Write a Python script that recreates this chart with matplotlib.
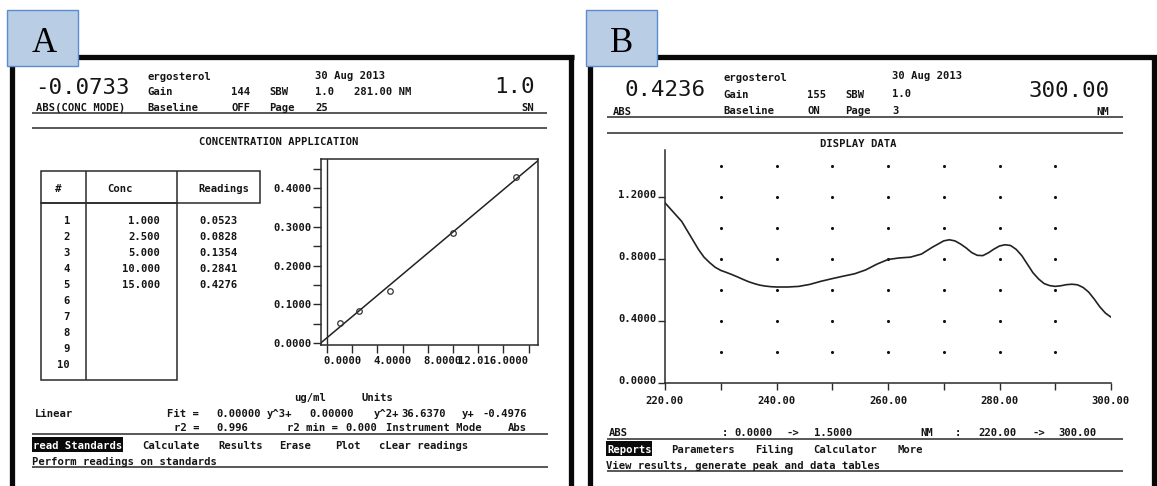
import numpy as np
import matplotlib
matplotlib.use('Agg')
import matplotlib.pyplot as plt
from matplotlib.patches import Rectangle
from matplotlib.ticker import MultipleLocator
from matplotlib.transforms import ScaledTranslation

W, H = 1157, 486

# ---------------- data ----------------
# Panel A : concentration application (standards)
std_index = list(range(1, 11))
std_conc = [1.000, 2.500, 5.000, 10.000, 15.000]
std_reading = [0.0523, 0.0828, 0.1354, 0.2841, 0.4276]
fit_coef = [0.00000, 0.00000, 36.6370, -0.4976]   # y^3, y^2, y, constant
fit_r2 = 0.996
fit_r2_min = 0.000
a_yticks = [0.0, 0.1, 0.2, 0.3, 0.4]
a_yticklabels = ['0.0000', '0.1000', '0.2000', '0.3000', '0.4000']
a_xticks = [0, 4, 8, 12]
a_xticklabels = ['0.0000', '4.0000', '8.0000', '12.016.0000']

# Panel B : display data (spectrum)
spec_nm = [220, 221, 222, 223, 224, 225, 226, 227, 228, 229, 230, 231, 232, 233,
           234, 235, 236, 237, 238, 239, 240, 242, 244, 246, 248, 250, 252, 254,
           256, 258, 260, 262, 264, 266, 268, 270, 271, 272, 273, 274, 275, 276,
           277, 278, 279, 280, 281, 282, 283, 284, 285, 286, 287, 288, 289, 290,
           291, 292, 293, 294, 295, 296, 297, 298, 299, 300]
spec_abs = [1.160, 1.120, 1.080, 1.040, 0.980, 0.920, 0.860, 0.810, 0.775, 0.745,
            0.725, 0.712, 0.698, 0.683, 0.667, 0.652, 0.640, 0.630, 0.624, 0.620,
            0.618, 0.618, 0.622, 0.635, 0.655, 0.672, 0.688, 0.703, 0.728, 0.765,
            0.795, 0.805, 0.810, 0.830, 0.875, 0.915, 0.922, 0.915, 0.895, 0.870,
            0.840, 0.822, 0.820, 0.838, 0.862, 0.882, 0.890, 0.885, 0.860, 0.820,
            0.765, 0.710, 0.670, 0.640, 0.627, 0.622, 0.626, 0.633, 0.636, 0.632,
            0.615, 0.585, 0.540, 0.490, 0.450, 0.424]
b_yticks = [0.0, 0.4, 0.8, 1.2]
b_yticklabels = ['0.0000', '0.4000', '0.8000', '1.2000']
b_xticks = [220, 240, 260, 280, 300]
b_xticklabels = ['220.00', '240.00', '260.00', '280.00', '300.00']

# ---------------- style ----------------
MONO = 'DejaVu Sans Mono'
SERIF = ['Liberation Serif', 'DejaVu Serif']
FS = 7.6
FSB = 16.2
WT = 'bold'
INK = '#151515'
LINE = '#2a2a2a'

fig = plt.figure(figsize=(W / 100, H / 100), dpi=100)
fig.patch.set_facecolor('white')
bg = fig.add_axes([0, 0, 1, 1])
bg.set_xlim(0, W)
bg.set_ylim(H, 0)
bg.axis('off')


def T(x, y, s, ha='left', size=FS, color=INK, weight=WT, **kw):
    bg.text(x, y, s, ha=ha, va='baseline', fontsize=size, family=MONO,
            color=color, fontweight=weight, **kw)


def HL(x0, x1, y, lw=1.1, color=LINE):
    bg.plot([x0, x1], [y, y], color=color, lw=lw, solid_capstyle='butt')


def VL(x, y0, y1, lw=1.1, color=LINE):
    bg.plot([x, x], [y0, y1], color=color, lw=lw, solid_capstyle='butt')


def frac(x0, y0, x1, y1):
    return [x0 / W, 1 - y1 / H, (x1 - x0) / W, (y1 - y0) / H]


# ---------------- frames ----------------
FR = 3.8
HL(9, 574, 57.5, lw=FR, color='#080808')
VL(12, 55.5, H, lw=FR, color='#080808')
VL(570.5, 55.5, H, lw=FR, color='#080808')
HL(587, W, 57, lw=FR, color='#080808')
VL(590, 55, H, lw=FR, color='#080808')
VL(1153.5, 55, H, lw=FR, color='#080808')

for (bx, lab, lx) in [(7, 'A', 44), (586, 'B', 622)]:
    bg.add_patch(Rectangle((bx, 10), 71, 56, facecolor='#b9cde5',
                           edgecolor='#5b8bd0', lw=1.0, zorder=5))
    bg.text(lx, 52, lab, ha='center', va='baseline', fontsize=25,
            family=SERIF, color='black', zorder=6)

# ---------------- Panel A header ----------------
T(35, 94, '-0.0733', size=FSB, weight='normal')
T(36, 111, 'ABS(CONC MODE)')
T(147, 80, 'ergosterol')
T(147, 95, 'Gain')
T(147, 111, 'Baseline')
T(231, 95, '144')
T(231, 111, 'OFF')
T(269, 95, 'SBW')
T(269, 111, 'Page')
T(315, 79, '30 Aug 2013')
T(315, 95, '1.0')
T(315, 111, '25')
T(354, 95, '281.00 NM')
T(535, 93, '1.0', ha='right', size=FSB, weight='normal')
T(534, 111, 'SN', ha='right')
HL(32, 547, 113.5)
HL(32, 547, 128.5)
T(279, 145, 'CONCENTRATION APPLICATION', ha='center')

# table
tl, tm, tr, th = 41, 86, 177, 260
ty0, ty1, ty2 = 171, 203, 380
bg.add_patch(Rectangle((tl, ty0), th - tl, ty1 - ty0, fill=False,
                       edgecolor=LINE, lw=1.1))
bg.add_patch(Rectangle((tl, ty1), tr - tl, ty2 - ty1, fill=False,
                       edgecolor=LINE, lw=1.1))
VL(tm, ty0, ty2)
VL(tr, ty0, ty1)
T(58, 192, '#', ha='center')
T(120, 192, 'Conc', ha='center')
T(224, 192, 'Readings', ha='center')
for k, idx in enumerate(std_index):
    yb = 224 + 16 * k
    T(70, yb, str(idx), ha='right')
    if k < len(std_conc):
        T(160, yb, f'{std_conc[k]:.3f}', ha='right')
        T(199, yb, f'{std_reading[k]:.4f}')

# bottom of panel A
T(294, 401, 'ug/ml')
T(361, 401, 'Units')
T(35, 417, 'Linear')
T(199, 417, 'Fit =', ha='right')
T(216, 417, f'{fit_coef[0]:.5f}')
T(267, 417, 'y^3+')
T(309, 417, f'{fit_coef[1]:.5f}')
T(374, 417, 'y^2+')
T(401, 417, f'{fit_coef[2]:.4f}')
T(462, 417, 'y+')
T(527, 417, f'{fit_coef[3]:.4f}', ha='right')
T(199, 431, 'r2 =', ha='right')
T(216, 431, f'{fit_r2:.3f}')
T(287, 431, 'r2 min =')
T(345, 431, f'{fit_r2_min:.3f}')
T(386, 431, 'Instrument Mode')
T(527, 431, 'Abs', ha='right')
HL(32, 548, 433.5)
bg.add_patch(Rectangle((32, 437), 91, 15, facecolor='#0a0a0a', edgecolor='none'))
T(33, 449, 'read Standards', color='white')
T(142, 449, 'Calculate')
T(218, 449, 'Results')
T(279, 449, 'Erase')
T(335, 449, 'Plot')
T(379, 449, 'cLear readings')
T(32, 465, 'Perform readings on standards')
HL(32, 548, 466.5)

# ---------------- Panel A plot ----------------
ax0, ay0, ax1, ay1 = 321, 159, 538, 345
axA = fig.add_axes(frac(ax0, ay0, ax1, ay1))
x_org, x_ppu = 327, 12.6
y_org, y_ppu = 343, 387.5
axA.set_xlim((ax0 - x_org) / x_ppu, (ax1 - x_org) / x_ppu)
axA.set_ylim((y_org - ay1) / y_ppu, (y_org - ay0) / y_ppu)
xs = np.array(axA.get_xlim())
axA.plot(xs, (xs - fit_coef[3]) / fit_coef[2], color='#222', lw=1.1)
axA.plot(std_conc, std_reading, 'o', ms=4, mfc='none', mec='#333', mew=0.9)
axA.axvline(0, color=LINE, lw=1.0)
axA.set_yticks(a_yticks)
axA.set_yticklabels(a_yticklabels)
axA.set_xticks(a_xticks)
axA.set_xticklabels(a_xticklabels)
axA.yaxis.set_minor_locator(MultipleLocator(0.05))
axA.xaxis.set_minor_locator(MultipleLocator(2))
axA.tick_params(which='both', direction='out', length=6, width=1.0,
                color=LINE, labelsize=FS, labelcolor=INK)
axA.tick_params(axis='y', pad=0.5)
axA.tick_params(axis='x', pad=2)
for s in axA.spines.values():
    s.set_linewidth(1.1)
    s.set_color(LINE)
for lab in axA.get_xticklabels() + axA.get_yticklabels():
    lab.set_family(MONO)
    lab.set_fontweight(WT)
off = ScaledTranslation(15 / 100, 0, fig.dpi_scale_trans)
for lab in axA.get_xticklabels():
    lab.set_transform(lab.get_transform() + off)

# ---------------- Panel B header ----------------
T(625, 96, '0.4236', size=FSB, weight='normal')
T(613, 115, 'ABS')
T(723, 81, 'ergosterol')
T(723, 98, 'Gain')
T(723, 114, 'Baseline')
T(807, 98, '155')
T(807, 114, 'ON')
T(845, 98, 'SBW')
T(845, 114, 'Page')
T(892, 79, '30 Aug 2013')
T(892, 97, '1.0')
T(892, 114, '3')
T(1110, 97, '300.00', ha='right', size=FSB, weight='normal')
T(1109, 115, 'NM', ha='right')
HL(607, 1123, 117)
HL(607, 1123, 133)
T(858, 147, 'DISPLAY DATA', ha='center')

# bottom of panel B
T(609, 436, 'ABS')
T(722, 436, ':')
T(734, 436, '0.0000')
T(787, 436, '->')
T(814, 436, '1.5000')
T(920, 436, 'NM')
T(955, 436, ':')
T(978, 436, '220.00')
T(1033, 436, '->')
T(1058, 436, '300.00')
HL(607, 1123, 438.5)
bg.add_patch(Rectangle((606, 441), 46, 15, facecolor='#0a0a0a', edgecolor='none'))
T(607, 453, 'Reports', color='white')
T(671, 453, 'Parameters')
T(755, 453, 'Filing')
T(813, 453, 'Calculator')
T(897, 453, 'More')
T(606, 469, 'View results, generate peak and data tables')
HL(607, 1123, 470.5)

# ---------------- Panel B plot ----------------
axB = fig.add_axes(frac(665, 150, 1111, 383))
axB.set_xlim(220, 300)
axB.set_ylim(0, 1.5)
gx, gy = np.meshgrid(np.arange(230, 291, 10), np.arange(0.2, 1.41, 0.2))
axB.scatter(gx.ravel(), gy.ravel(), s=5, color='#111', linewidths=0)
axB.plot(spec_nm, spec_abs, color='#222', lw=1.2)
axB.set_yticks(b_yticks)
axB.set_yticklabels(b_yticklabels)
axB.set_xticks(b_xticks)
axB.set_xticklabels(b_xticklabels)
axB.xaxis.set_minor_locator(MultipleLocator(10))
axB.tick_params(which='both', direction='out', length=5, width=1.0,
                color=LINE, labelsize=FS, labelcolor=INK)
axB.tick_params(axis='y', pad=1)
axB.tick_params(axis='x', pad=4)
for side in ['top', 'right']:
    axB.spines[side].set_visible(False)
for side in ['left', 'bottom']:
    axB.spines[side].set_linewidth(1.1)
    axB.spines[side].set_color(LINE)
for lab in axB.get_xticklabels() + axB.get_yticklabels():
    lab.set_family(MONO)
    lab.set_fontweight(WT)
offy = ScaledTranslation(0, 3 / 100, fig.dpi_scale_trans)
for lab in axB.get_yticklabels():
    lab.set_transform(lab.get_transform() + offy)

fig.savefig('out.png', dpi=100, facecolor='white')
